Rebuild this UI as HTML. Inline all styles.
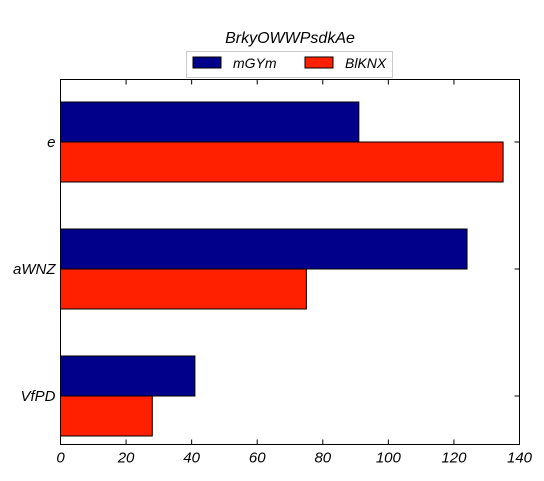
<!DOCTYPE html>
<html><head><meta charset="utf-8"><style>
body{margin:0;background:#fff;}
svg text{font-family:"Liberation Sans",sans-serif;font-style:italic;}
</style></head><body>
<svg width="544" height="476">
<text x="290" y="43" font-size="16" text-anchor="middle">BrkyOWWPsdkAe</text>
<g>
<rect x="186.5" y="51.5" width="206" height="26" fill="#fff" stroke="#ccc"/>
<rect x="193" y="57" width="28" height="11" fill="#00008b" stroke="#000"/>
<text x="233" y="68" font-size="14">mGYm</text>
<rect x="305" y="57" width="28" height="11" fill="#ff2000" stroke="#000"/>
<text x="345" y="68" font-size="14">BlKNX</text>
</g>
<g id="plot"></g>
</svg>
<script>
const categories=["VfPD","aWNZ","e"];
const seriesA=[41,124,91];
const seriesB=[28,75,135];
const xTicks=[0,20,40,60,80,100,120,140];
const L=60.5,R=519.5,T=79.5,B=444.5;
const xs=v=>L+v*(R-L)/140;
const yc=i=>396-i*127;
const ns="http://www.w3.org/2000/svg";
const g=document.getElementById('plot');
function mk(t,a){const e=document.createElementNS(ns,t);for(const k in a)e.setAttribute(k,a[k]);g.appendChild(e);return e;}
categories.forEach((c,i)=>{
 let r=mk('rect',{x:L,y:yc(i)-40,width:xs(seriesA[i])-L,height:40,fill:'#00008b',stroke:'#000'});
 
 
 r=mk('rect',{x:L,y:yc(i),width:xs(seriesB[i])-L,height:40,fill:'#ff2000',stroke:'#000'});
 
 
 const t=mk('text',{x:L-5,y:yc(i)+5,'font-size':15,'text-anchor':'end'});
 t.textContent=c;
 
 
 mk('line',{x1:L,x2:L+5,y1:yc(i),y2:yc(i),stroke:'#000'});
 mk('line',{x1:R,x2:R-5,y1:yc(i),y2:yc(i),stroke:'#000'});
});
xTicks.forEach(v=>{
 mk('line',{x1:xs(v),x2:xs(v),y1:B,y2:B-5,stroke:'#000'});
 mk('line',{x1:xs(v),x2:xs(v),y1:T,y2:T+5,stroke:'#000'});
 const t=mk('text',{x:xs(v),y:B+18,'font-size':15,'text-anchor':'middle'});
 t.textContent=v;
 
 
});
const f=mk('rect',{x:L,y:T,width:R-L,height:B-T,fill:'none',stroke:'#000'});


</script>
</body></html>
